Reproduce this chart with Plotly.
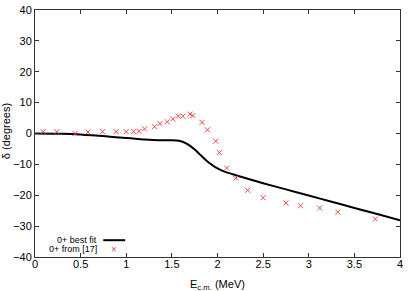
import plotly.graph_objects as go

# Experimental phase shifts (0+ from [17])
exp_E = [0.09, 0.24, 0.44, 0.58, 0.74, 0.89, 1.00, 1.08, 1.14, 1.20, 1.31, 1.37, 1.45,
         1.51, 1.57, 1.62, 1.70, 1.73, 1.83, 1.89, 1.98, 2.02, 2.10, 2.20, 2.33, 2.50,
         2.75, 2.91, 3.12, 3.32, 3.73]
exp_delta = [0.6, 0.6, 0.0, 0.5, 0.6, 0.6, 0.6, 0.6, 0.7, 1.5, 2.2, 3.2, 3.8,
             4.7, 5.6, 5.6, 6.3, 5.8, 3.6, 1.2, -2.5, -6.2, -11.2, -14.5, -18.4, -20.8,
             -22.5, -23.4, -24.1, -25.5, -27.7]

# Best fit curve (0+ best fit)
fit_E = [0.0, 0.2, 0.4, 0.55, 0.7, 0.85, 1.0, 1.1, 1.2, 1.3, 1.4, 1.5, 1.55, 1.6, 1.65,
         1.7, 1.75, 1.8, 1.85, 1.9, 1.95, 2.0, 2.05, 2.1, 2.2, 2.35, 2.5, 2.75, 3.0,
         3.25, 3.5, 3.75, 4.0]
fit_delta = [0.0, -0.05, -0.2, -0.45, -0.75, -1.1, -1.45, -1.7, -1.95, -2.1, -2.2, -2.2,
             -2.25, -2.5, -3.1, -4.0, -5.2, -6.6, -8.0, -9.3, -10.4, -11.3, -12.0, -12.6,
             -13.5, -14.8, -16.1, -18.1, -20.1, -22.1, -24.1, -26.1, -28.1]

x_ticks = [0, 0.5, 1, 1.5, 2, 2.5, 3, 3.5, 4]
x_tick_labels = ["0", "0.5", "1", "1.5", "2", "2.5", "3", "3.5", "4"]
y_ticks = [-40, -30, -20, -10, 0, 10, 20, 30, 40]

RED = "rgb(240,70,70)"
FONT = "Liberation Sans, Arial, sans-serif"

fig = go.Figure()
fig.add_trace(go.Scatter(x=fit_E, y=fit_delta, mode="lines", name="0+ best fit",
                         line=dict(color="black", width=2, shape="spline", smoothing=0.6)))
fig.add_trace(go.Scatter(x=exp_E, y=exp_delta, mode="markers", name="0+ from [17]",
                         marker=dict(symbol="x-thin-open", size=5, color=RED,
                                     line=dict(color=RED, width=1))))

axis_common = dict(showline=True, linecolor="#333", linewidth=1, mirror="ticks",
                   ticks="inside", ticklen=4, tickcolor="#333", showgrid=False,
                   zeroline=False, automargin=False,
                   tickfont=dict(family=FONT, size=11, color="black"))

fig.update_xaxes(range=[0, 4], tickvals=x_ticks, ticktext=x_tick_labels,
                 ticklabelstandoff=-3, **axis_common)
fig.update_yaxes(range=[-40, 40], tickvals=y_ticks, **axis_common)

# Axis titles
fig.add_annotation(xref="paper", yref="paper", x=0.5, y=-0.075, xanchor="center",
                   yanchor="top", text="E<sub>c.m.</sub> (MeV)", showarrow=False,
                   font=dict(family=FONT, size=11, color="black"))
fig.add_annotation(xref="paper", yref="paper", x=-0.079, y=0.51, xanchor="center",
                   yanchor="middle", text="δ (degrees)", textangle=-90, showarrow=False,
                   font=dict(family=FONT, size=11, color="black"))

# Legend (gnuplot style: text on left, key on right)
fig.add_annotation(xref="paper", yref="paper", x=0.176, y=0.068, xanchor="right",
                   yanchor="middle", text="0+ best fit", showarrow=False,
                   font=dict(family=FONT, size=9, color="black"))
fig.add_annotation(xref="paper", yref="paper", x=0.176, y=0.032, xanchor="right",
                   yanchor="middle", text="0+ from [17]", showarrow=False,
                   font=dict(family=FONT, size=9, color="black"))
fig.add_shape(type="line", xref="paper", yref="paper", x0=0.187, x1=0.247, y0=0.068,
              y1=0.068, line=dict(color="black", width=2))
fig.add_annotation(xref="paper", yref="paper", x=0.216, y=0.032, xanchor="center",
                   yanchor="middle", text="×", showarrow=False,
                   font=dict(family=FONT, size=10, color=RED))

fig.update_layout(width=415, height=291, showlegend=False,
                  margin=dict(l=35, r=15, t=10, b=34),
                  paper_bgcolor="white", plot_bgcolor="white",
                  font=dict(family=FONT, size=11, color="black"))

fig.write_html("out.html", config={"displayModeBar": False},
               post_script="document.body.style.margin='0';document.body.style.overflow='hidden';")
